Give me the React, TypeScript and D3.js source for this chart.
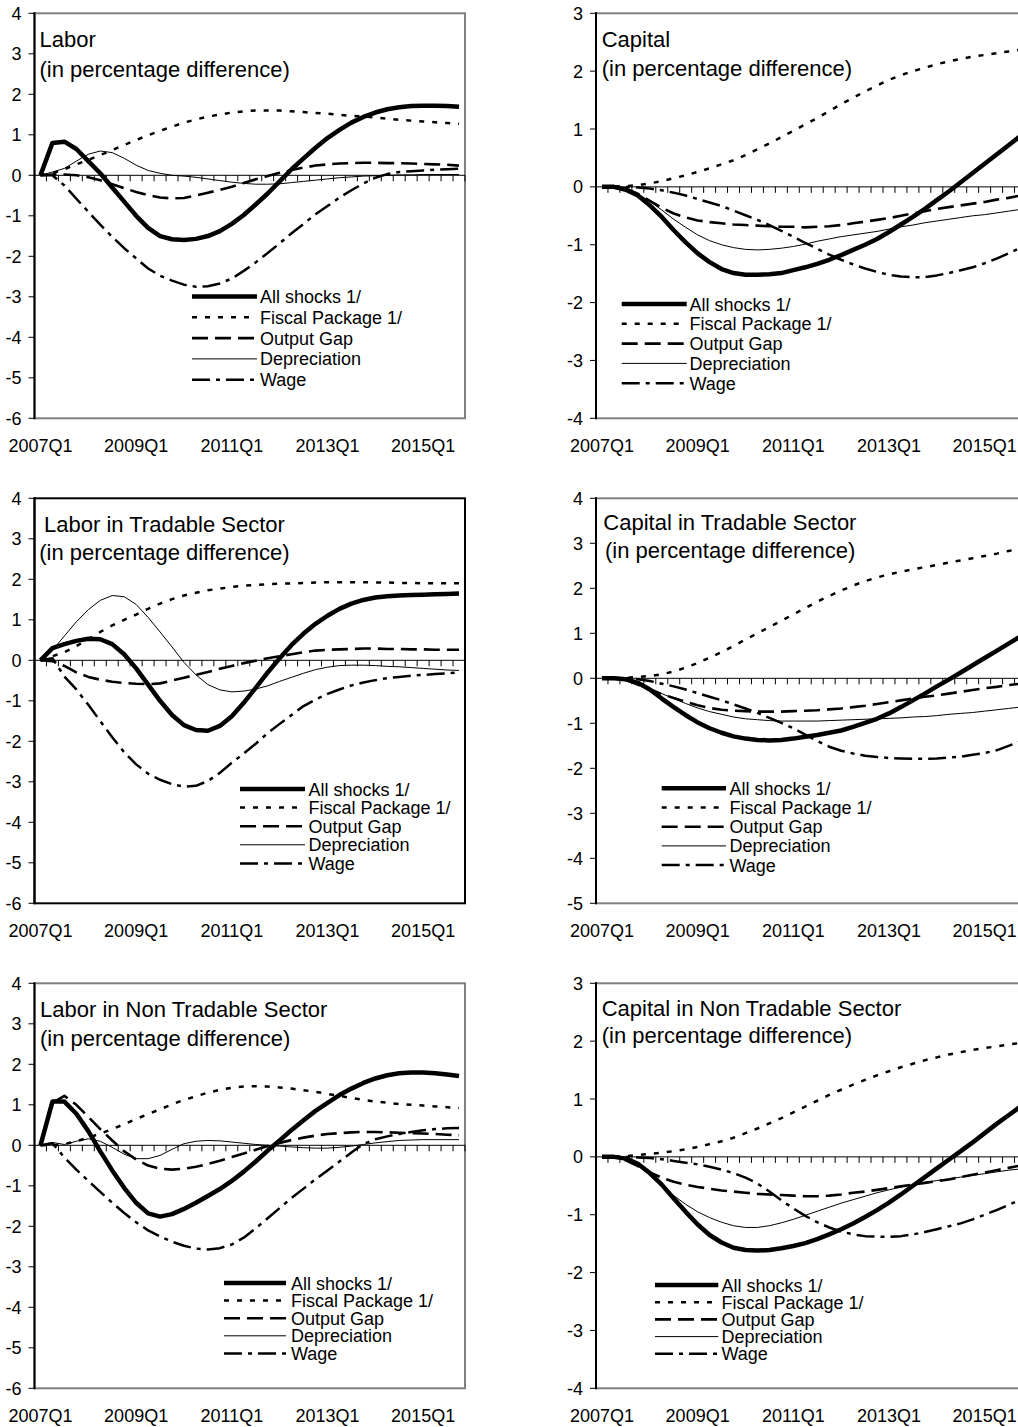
import React from 'react';
import * as d3 from 'd3';

// ---------- categories ----------
const quarters: string[] = [];
for (let yr = 2007; yr <= 2015; yr++) for (let q = 1; q <= 4; q++) quarters.push(`${yr}Q${q}`);
const tickLabels = ['2007Q1', '2009Q1', '2011Q1', '2013Q1', '2015Q1'];
const seriesNames = ['All shocks 1/', 'Fiscal Package 1/', 'Output Gap', 'Depreciation', 'Wage'];

// ---------- Labor ----------
const laborAll = [0,0.8,0.83,0.65,0.35,0.05,-0.3,-0.65,-1.0,-1.3,-1.5,-1.58,-1.6,-1.57,-1.5,-1.38,-1.2,-0.98,-0.72,-0.45,-0.15,0.15,0.42,0.68,0.92,1.12,1.3,1.44,1.55,1.63,1.68,1.71,1.72,1.72,1.71,1.69];
const laborFiscal = [0,0.05,0.15,0.27,0.38,0.5,0.62,0.75,0.87,0.99,1.1,1.2,1.3,1.38,1.45,1.5,1.55,1.58,1.6,1.6,1.6,1.58,1.56,1.54,1.52,1.49,1.47,1.45,1.43,1.4,1.37,1.35,1.33,1.31,1.29,1.27];
const laborGap = [0,0.02,0.02,0,-0.05,-0.12,-0.22,-0.32,-0.41,-0.49,-0.55,-0.57,-0.56,-0.5,-0.43,-0.36,-0.28,-0.19,-0.1,-0.02,0.06,0.13,0.19,0.24,0.27,0.29,0.3,0.31,0.31,0.3,0.3,0.29,0.28,0.27,0.26,0.24];
const laborDep = [0,0.08,0.17,0.35,0.52,0.6,0.56,0.42,0.25,0.12,0.05,0,-0.02,-0.05,-0.09,-0.13,-0.17,-0.2,-0.22,-0.22,-0.21,-0.18,-0.15,-0.12,-0.09,-0.06,-0.04,-0.02,-0.01,0,0.01,0.01,0.02,0.02,0.02,0.02];
const laborWage = [0,0,-0.25,-0.58,-0.9,-1.22,-1.52,-1.8,-2.05,-2.3,-2.48,-2.6,-2.7,-2.75,-2.74,-2.67,-2.55,-2.36,-2.15,-1.92,-1.68,-1.43,-1.2,-0.96,-0.76,-0.55,-0.37,-0.2,-0.06,0.03,0.08,0.1,0.12,0.14,0.15,0.16];

// ---------- Capital ----------
const capAll = [0,0,-0.05,-0.15,-0.32,-0.52,-0.75,-0.96,-1.15,-1.3,-1.42,-1.49,-1.52,-1.52,-1.51,-1.49,-1.44,-1.39,-1.33,-1.26,-1.18,-1.09,-1.0,-0.9,-0.78,-0.65,-0.52,-0.38,-0.23,-0.08,0.08,0.24,0.4,0.56,0.72,0.88];
const capFiscal = [0,0,0.01,0.03,0.06,0.1,0.15,0.2,0.26,0.32,0.39,0.46,0.55,0.65,0.75,0.86,0.97,1.08,1.19,1.31,1.43,1.54,1.65,1.75,1.85,1.93,2.0,2.06,2.12,2.17,2.21,2.25,2.28,2.31,2.34,2.37];
const capGap = [0,0,-0.03,-0.12,-0.24,-0.36,-0.46,-0.53,-0.58,-0.61,-0.63,-0.65,-0.66,-0.67,-0.68,-0.69,-0.69,-0.7,-0.69,-0.68,-0.66,-0.63,-0.6,-0.57,-0.54,-0.5,-0.46,-0.42,-0.38,-0.35,-0.32,-0.29,-0.26,-0.22,-0.19,-0.15];
const capDep = [0,0,-0.04,-0.12,-0.25,-0.4,-0.56,-0.7,-0.83,-0.93,-1.0,-1.05,-1.08,-1.09,-1.08,-1.06,-1.03,-0.99,-0.94,-0.9,-0.86,-0.83,-0.8,-0.77,-0.73,-0.69,-0.66,-0.62,-0.59,-0.56,-0.53,-0.5,-0.48,-0.45,-0.42,-0.39];
const capWage = [0,0,0,-0.01,-0.03,-0.06,-0.1,-0.15,-0.21,-0.27,-0.33,-0.41,-0.49,-0.57,-0.66,-0.76,-0.86,-0.97,-1.07,-1.17,-1.26,-1.34,-1.41,-1.47,-1.52,-1.55,-1.56,-1.56,-1.53,-1.49,-1.44,-1.39,-1.32,-1.24,-1.15,-1.05];

// ---------- Labor in Tradable Sector ----------
const ltAll = [0,0.3,0.4,0.48,0.53,0.52,0.4,0.15,-0.2,-0.6,-1.0,-1.35,-1.6,-1.72,-1.74,-1.62,-1.38,-1.05,-0.68,-0.3,0.05,0.38,0.66,0.9,1.1,1.27,1.4,1.49,1.55,1.58,1.6,1.61,1.62,1.63,1.64,1.65];
const ltFiscal = [0,0.1,0.2,0.35,0.52,0.7,0.86,1.0,1.13,1.27,1.4,1.51,1.6,1.67,1.73,1.77,1.81,1.84,1.86,1.88,1.89,1.9,1.91,1.92,1.93,1.93,1.93,1.93,1.92,1.92,1.91,1.91,1.9,1.9,1.9,1.9];
const ltGap = [0,-0.02,-0.14,-0.3,-0.41,-0.48,-0.53,-0.56,-0.58,-0.59,-0.57,-0.5,-0.43,-0.36,-0.29,-0.21,-0.14,-0.07,-0.01,0.05,0.1,0.15,0.2,0.24,0.26,0.27,0.28,0.29,0.29,0.28,0.28,0.27,0.27,0.26,0.26,0.26];
const ltDep = [0,0.25,0.6,0.95,1.25,1.48,1.6,1.57,1.38,1.06,0.7,0.33,-0.05,-0.36,-0.6,-0.73,-0.78,-0.76,-0.71,-0.63,-0.52,-0.42,-0.32,-0.23,-0.17,-0.13,-0.12,-0.12,-0.13,-0.15,-0.16,-0.18,-0.2,-0.22,-0.24,-0.25];
const ltWage = [0,0.05,-0.4,-0.72,-1.1,-1.5,-1.9,-2.27,-2.57,-2.8,-2.95,-3.06,-3.12,-3.1,-2.98,-2.78,-2.53,-2.3,-2.06,-1.8,-1.57,-1.35,-1.13,-0.97,-0.83,-0.72,-0.62,-0.55,-0.49,-0.44,-0.41,-0.38,-0.36,-0.34,-0.32,-0.3];

// ---------- Capital in Tradable Sector ----------
const ctAll = [0,0,-0.02,-0.1,-0.25,-0.45,-0.64,-0.82,-0.98,-1.11,-1.21,-1.29,-1.34,-1.37,-1.38,-1.37,-1.34,-1.3,-1.26,-1.21,-1.16,-1.08,-0.99,-0.9,-0.78,-0.64,-0.49,-0.34,-0.18,-0.03,0.13,0.29,0.45,0.61,0.77,0.93];
const ctFiscal = [0,0,0.01,0.03,0.05,0.09,0.15,0.24,0.34,0.46,0.58,0.72,0.86,1.0,1.14,1.28,1.42,1.56,1.7,1.83,1.95,2.06,2.16,2.24,2.31,2.37,2.42,2.47,2.52,2.57,2.62,2.67,2.72,2.77,2.83,2.88];
const ctGap = [0,0,-0.04,-0.14,-0.25,-0.35,-0.44,-0.52,-0.6,-0.66,-0.7,-0.72,-0.73,-0.74,-0.74,-0.74,-0.73,-0.72,-0.71,-0.69,-0.67,-0.64,-0.61,-0.57,-0.53,-0.49,-0.45,-0.41,-0.38,-0.34,-0.3,-0.26,-0.22,-0.19,-0.15,-0.12];
const ctDep = [0,0,-0.04,-0.12,-0.22,-0.34,-0.45,-0.56,-0.66,-0.74,-0.8,-0.86,-0.9,-0.92,-0.94,-0.95,-0.95,-0.95,-0.95,-0.94,-0.93,-0.92,-0.91,-0.9,-0.89,-0.88,-0.86,-0.85,-0.83,-0.8,-0.78,-0.76,-0.73,-0.7,-0.67,-0.64];
const ctWage = [0,0,0,-0.02,-0.06,-0.12,-0.18,-0.25,-0.33,-0.41,-0.49,-0.58,-0.67,-0.77,-0.88,-0.99,-1.11,-1.25,-1.39,-1.52,-1.61,-1.67,-1.72,-1.75,-1.77,-1.78,-1.79,-1.79,-1.78,-1.76,-1.74,-1.7,-1.66,-1.6,-1.5,-1.4];

// ---------- Labor in Non Tradable Sector ----------
const lntAll = [0,1.08,1.08,0.78,0.35,-0.15,-0.62,-1.05,-1.42,-1.68,-1.76,-1.7,-1.57,-1.42,-1.25,-1.08,-0.88,-0.65,-0.4,-0.13,0.12,0.38,0.62,0.85,1.05,1.24,1.4,1.54,1.65,1.73,1.78,1.8,1.8,1.78,1.75,1.71];
const lntFiscal = [0,0,0.03,0.1,0.19,0.29,0.4,0.52,0.65,0.77,0.89,1.01,1.12,1.21,1.3,1.37,1.42,1.45,1.46,1.45,1.43,1.4,1.36,1.32,1.27,1.22,1.17,1.12,1.08,1.05,1.02,1.0,0.98,0.96,0.94,0.92];
const lntGap = [0,1.05,1.22,1.0,0.7,0.4,0.12,-0.15,-0.35,-0.5,-0.58,-0.6,-0.58,-0.53,-0.46,-0.38,-0.29,-0.2,-0.11,-0.02,0.06,0.13,0.19,0.24,0.28,0.3,0.32,0.33,0.33,0.32,0.31,0.3,0.29,0.28,0.26,0.25];
const lntDep = [0,0.07,0.02,0.1,0.16,0.1,-0.05,-0.22,-0.33,-0.33,-0.25,-0.1,0.04,0.1,0.12,0.11,0.08,0.05,0.02,0,-0.02,-0.04,-0.06,-0.07,-0.07,-0.05,-0.02,0.02,0.06,0.09,0.12,0.13,0.14,0.14,0.14,0.14];
const lntWage = [0,0.05,-0.3,-0.6,-0.88,-1.15,-1.42,-1.67,-1.9,-2.1,-2.25,-2.38,-2.48,-2.55,-2.57,-2.54,-2.45,-2.28,-2.05,-1.8,-1.55,-1.3,-1.07,-0.84,-0.62,-0.4,-0.18,0.03,0.15,0.22,0.28,0.33,0.37,0.4,0.42,0.43];

// ---------- Capital in Non Tradable Sector ----------
const cntAll = [0,0,-0.03,-0.12,-0.28,-0.48,-0.72,-0.95,-1.17,-1.35,-1.48,-1.57,-1.61,-1.62,-1.61,-1.58,-1.54,-1.49,-1.42,-1.34,-1.25,-1.15,-1.04,-0.92,-0.79,-0.65,-0.5,-0.35,-0.2,-0.05,0.1,0.25,0.41,0.57,0.72,0.87];
const cntFiscal = [0,0,0.01,0.03,0.05,0.07,0.1,0.13,0.17,0.22,0.27,0.33,0.41,0.49,0.58,0.67,0.77,0.87,0.97,1.07,1.16,1.25,1.33,1.41,1.48,1.55,1.61,1.67,1.72,1.77,1.81,1.85,1.88,1.91,1.94,1.97];
const cntGap = [0,0,-0.06,-0.16,-0.27,-0.36,-0.43,-0.48,-0.52,-0.55,-0.58,-0.6,-0.62,-0.64,-0.65,-0.66,-0.67,-0.68,-0.68,-0.67,-0.65,-0.62,-0.6,-0.57,-0.54,-0.51,-0.48,-0.45,-0.42,-0.39,-0.35,-0.31,-0.27,-0.23,-0.19,-0.15];
const cntDep = [0,0,-0.05,-0.15,-0.32,-0.5,-0.67,-0.82,-0.95,-1.05,-1.13,-1.19,-1.22,-1.22,-1.19,-1.14,-1.08,-1.01,-0.94,-0.87,-0.8,-0.74,-0.68,-0.62,-0.57,-0.52,-0.48,-0.44,-0.41,-0.38,-0.35,-0.32,-0.29,-0.26,-0.23,-0.21];
const cntWage = [0,0,0,-0.01,-0.02,-0.04,-0.07,-0.1,-0.13,-0.17,-0.22,-0.28,-0.36,-0.46,-0.6,-0.75,-0.89,-1.02,-1.13,-1.22,-1.29,-1.34,-1.37,-1.38,-1.38,-1.37,-1.34,-1.3,-1.25,-1.2,-1.15,-1.08,-1.0,-0.92,-0.83,-0.74];

// ---------- styling ----------
const FONT = "'Liberation Sans', Arial, Helvetica, sans-serif";
const PLOT_W = 430.5;
const PLOT_TOP = 13.3;
const PLOT_BOTTOM = 418.3;

const seriesStyles = [
  { width: 4.5, dash: undefined as string | undefined, color: '#000' },
  { width: 2.5, dash: '5,8', color: '#000' },
  { width: 2.6, dash: '16,7', color: '#000' },
  { width: 1, dash: undefined, color: '#000' },
  { width: 2.5, dash: '18,6,4,6', color: '#000' },
];

type PanelDef = {
  left: number;
  top: number;
  domain: [number, number];
  titles: { text: string; x: number; y: number }[];
  series: number[][];
  frame: string;
  legend: { x0: number; x1: number; tx: number; y0: number; dy: number };
};

const panels: PanelDef[] = [
  {
    left: 34.5, top: 0, domain: [-6, 4],
    titles: [{ text: 'Labor', x: 39.5, y: 47 }, { text: '(in percentage difference)', x: 39.5, y: 77 }],
    series: [laborAll, laborFiscal, laborGap, laborDep, laborWage],
    frame: '#808080',
    legend: { x0: 192, x1: 257, tx: 260, y0: 296.5, dy: 20.8 },
  },
  {
    left: 596, top: 0, domain: [-4, 3],
    titles: [{ text: 'Capital', x: 601.7, y: 46.7 }, { text: '(in percentage difference)', x: 601.7, y: 76 }],
    series: [capAll, capFiscal, capGap, capDep, capWage],
    frame: '#808080',
    legend: { x0: 621.7, x1: 686.7, tx: 689.5, y0: 304, dy: 19.8 },
  },
  {
    left: 34.5, top: 485, domain: [-6, 4],
    titles: [{ text: 'Labor in Tradable Sector', x: 44, y: 46.7 }, { text: '(in percentage difference)', x: 39.3, y: 75 }],
    series: [ltAll, ltFiscal, ltGap, ltDep, ltWage],
    frame: '#000',
    legend: { x0: 240, x1: 305, tx: 308.5, y0: 304, dy: 18.6 },
  },
  {
    left: 596, top: 485, domain: [-5, 4],
    titles: [{ text: 'Capital in Tradable Sector', x: 603.3, y: 45 }, { text: '(in percentage difference)', x: 605, y: 73.3 }],
    series: [ctAll, ctFiscal, ctGap, ctDep, ctWage],
    frame: '#808080',
    legend: { x0: 661.7, x1: 726, tx: 729.5, y0: 303.3, dy: 19.2 },
  },
  {
    left: 34.5, top: 970, domain: [-6, 4],
    titles: [{ text: 'Labor in Non Tradable Sector', x: 40, y: 47.3 }, { text: '(in percentage difference)', x: 40, y: 75.7 }],
    series: [lntAll, lntFiscal, lntGap, lntDep, lntWage],
    frame: '#808080',
    legend: { x0: 224, x1: 286, tx: 291, y0: 313, dy: 17.6 },
  },
  {
    left: 596, top: 970, domain: [-4, 3],
    titles: [{ text: 'Capital in Non Tradable Sector', x: 601.7, y: 46 }, { text: '(in percentage difference)', x: 601.7, y: 73.3 }],
    series: [cntAll, cntFiscal, cntGap, cntDep, cntWage],
    frame: '#808080',
    legend: { x0: 655, x1: 718.3, tx: 721.5, y0: 315, dy: 17.2 },
  },
];

function Panel({ p }: { p: PanelDef }) {
  const x = d3.scaleBand<string>().domain(quarters).range([p.left, p.left + PLOT_W]).padding(0);
  const y = d3.scaleLinear().domain(p.domain).range([p.top + PLOT_BOTTOM, p.top + PLOT_TOP]);
  const cx = (i: number) => (x(quarters[i]) as number) + x.bandwidth() / 2;
  const line = d3.line<number>().x((_, i) => cx(i)).y((d) => y(d)).curve(d3.curveLinear);
  const yTicks = d3.range(p.domain[0], p.domain[1] + 1);
  const zeroY = y(0);
  const right = p.left + PLOT_W;
  const boundaries = quarters.map((q) => x(q) as number).concat([right]);

  return (
    <g>
      {/* plot area border */}
      <rect x={p.left} y={y(p.domain[1])} width={PLOT_W} height={y(p.domain[0]) - y(p.domain[1])}
        fill="none" stroke={p.frame} strokeWidth={2} />
      {/* zero (category) axis */}
      <line x1={p.left} x2={right} y1={zeroY} y2={zeroY} stroke="#000" strokeWidth={1} />
      {boundaries.map((bx, i) => (
        <line key={`xt${i}`} x1={bx} x2={bx} y1={zeroY} y2={zeroY + 6} stroke="#000" strokeWidth={1} />
      ))}
      {/* value axis */}
      <line x1={p.left} x2={p.left} y1={y(p.domain[1]) - 1} y2={y(p.domain[0]) + 1} stroke="#000" strokeWidth={2} />
      {yTicks.map((t) => (
        <g key={`yt${t}`}>
          <line x1={p.left - 6} x2={p.left} y1={y(t)} y2={y(t)} stroke="#000" strokeWidth={1} />
          <text x={p.left - 13} y={y(t) + 6.5} textAnchor="end" fontSize={18} fontFamily={FONT} fill="#000">
            {t}
          </text>
        </g>
      ))}
      {/* category labels */}
      {tickLabels.map((lab) => (
        <text key={lab} x={cx(quarters.indexOf(lab))} y={p.top + 452} textAnchor="middle" fontSize={18}
          fontFamily={FONT} fill="#000">{lab}</text>
      ))}
      {/* titles */}
      {p.titles.map((t, i) => (
        <text key={`t${i}`} x={t.x} y={p.top + t.y} fontSize={22} fontFamily={FONT} fill="#000">{t.text}</text>
      ))}
      {/* series */}
      {p.series.map((s, i) => (
        <path key={`s${i}`} d={line(s) || ''} fill="none" stroke={seriesStyles[i].color}
          strokeWidth={seriesStyles[i].width} strokeDasharray={seriesStyles[i].dash}
          strokeLinejoin="round" />
      ))}
      {/* legend */}
      {seriesNames.map((name, i) => {
        const ly = p.top + p.legend.y0 + i * p.legend.dy;
        return (
          <g key={`lg${i}`}>
            <line x1={p.legend.x0} x2={p.legend.x1} y1={ly} y2={ly} stroke={seriesStyles[i].color}
              strokeWidth={seriesStyles[i].width} strokeDasharray={seriesStyles[i].dash} />
            <text x={p.legend.tx} y={ly + 6.5} fontSize={18} fontFamily={FONT} fill="#000">{name}</text>
          </g>
        );
      })}
    </g>
  );
}

export default function App() {
  return (
    <div style={{ position: 'absolute', left: 0, top: 0, width: 1018, height: 1427, overflow: 'hidden', background: '#fff' }}>
      <svg width={1018} height={1427} viewBox="0 0 1018 1427" style={{ display: 'block' }}>
        <rect x={0} y={0} width={1018} height={1427} fill="#fff" />
        {panels.map((p, i) => (
          <Panel key={i} p={p} />
        ))}
      </svg>
    </div>
  );
}
